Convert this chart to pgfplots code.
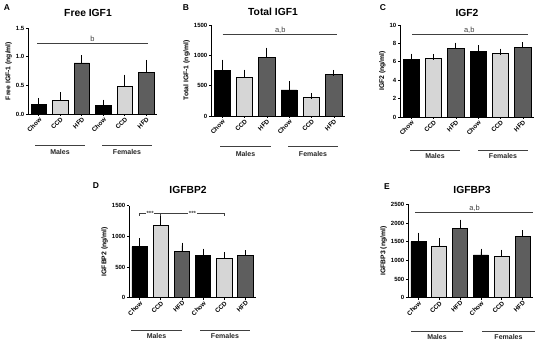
\documentclass[border=0pt]{standalone}
\usepackage{pgfplots}
\pgfplotsset{compat=1.18}
\usepackage{fontspec}
\setmainfont{Liberation Sans}
\definecolor{ccd}{HTML}{D6D6D6}
\definecolor{hfd}{HTML}{5E5E5E}
\definecolor{sig}{HTML}{404040}
\pgfplotsset{
  panel/.style={
    scale only axis, axis lines=left, axis line style={-, line width=0.8pt},
    anchor=south west,
    ymin=0, xmin=-0.5, xmax=5.5, xtick={0,...,5},
    xticklabels={Chow,CCD,HFD,Chow,CCD,HFD},
    x tick label style={rotate=45, anchor=north east, font=\fontsize{6.3}{7}\selectfont\bfseries, inner sep=0.5pt},
    y tick label style={font=\fontsize{6}{7}\selectfont\bfseries, inner sep=1.5pt},
    tick align=outside, major tick length=2pt, tick style={black, line width=0.6pt},
    ylabel style={font=\fontsize{6.8}{7.5}\selectfont\bfseries, yshift=-1pt},
    /pgf/number format/assume math mode=true,
    /pgf/number format/set thousands separator={},
    clip=false,
  },
  bars/.style={ybar, bar width=0.72, bar shift=0pt, draw=black, line width=0.7pt, fill=#1,
    error bars/.cd, y dir=plus, y explicit, error bar style={black, line width=0.7pt},
    error mark options={black, line width=0.7pt, mark size=3pt}},
}
\tikzset{
  ttl/.style={font=\fontsize{10.3}{12}\selectfont\bfseries},
  ltr/.style={font=\fontsize{8.5}{10}\selectfont\bfseries},
  grp/.style={font=\fontsize{7}{8}\selectfont\bfseries, text=black!85},
  gln/.style={black!75, line width=0.8pt},
  sigtxt/.style={font=\fontsize{7.5}{8}\selectfont, text=sig, inner sep=1pt},
  stars/.style={fill=white, font=\fontsize{6}{6}\selectfont\bfseries, text=sig, inner sep=0.6pt},
}
\begin{document}
\begin{tikzpicture}[x=1pt,y=1pt]
\path[use as bounding box] (0,0) rectangle (550,345);

% ---------- Panel A ----------
\begin{axis}[panel, at={(28pt,231pt)}, width=129pt, height=86pt,
  ymax=1.5, ytick={0,0.5,1,1.5},
  yticklabel style={/pgf/number format/.cd, fixed, fixed zerofill, precision=1},
  ylabel={Free IGF-1 (ng/ml)}]
\addplot[bars=black] coordinates {(0,0.17) +- (0,0.06) (3,0.155) +- (0,0.045)};
\addplot[bars=ccd] coordinates {(1,0.24) +- (0,0.09) (4,0.475) +- (0,0.16)};
\addplot[bars=hfd] coordinates {(2,0.89) +- (0,0.08) (5,0.73) +- (0,0.16)};
\draw[sig, line width=0.7pt] (axis cs:-0.08,1.24) -- (axis cs:5.08,1.24);
\node[above, sigtxt] at (axis cs:2.5,1.24) {b};
\end{axis}

% ---------- Panel B ----------
\begin{axis}[panel, at={(211pt,229pt)}, width=134pt, height=91pt,
  ymax=1500, ytick={0,500,1000,1500},
  ylabel={Total IGF-1 (ng/ml)}]
\addplot[bars=black] coordinates {(0,758) +- (0,121) (3,429) +- (0,93)};
\addplot[bars=ccd] coordinates {(1,637) +- (0,77) (4,313) +- (0,17)};
\addplot[bars=hfd] coordinates {(2,967) +- (0,110) (5,692) +- (0,17)};
\draw[sig, line width=0.7pt] (axis cs:0.02,1346) -- (axis cs:5.14,1346);
\node[above, sigtxt] at (axis cs:2.6,1346) {a,b};
\end{axis}

% ---------- Panel C ----------
\begin{axis}[panel, at={(400pt,228pt)}, width=134pt, height=92pt,
  ymax=10, ytick={0,2,4,6,8,10},
  ylabel={IGF2 (ng/ml)}]
\addplot[bars=black] coordinates {(0,6.28) +- (0,0.29) (3,7.11) +- (0,0.36)};
\addplot[bars=ccd] coordinates {(1,6.39) +- (0,0.15) (4,6.93) +- (0,0.18)};
\addplot[bars=hfd] coordinates {(2,7.47) +- (0,0.29) (5,7.58) +- (0,0.22)};
\draw[sig, line width=0.7pt] (axis cs:0.04,9.0) -- (axis cs:5.23,9.0);
\node[above, sigtxt] at (axis cs:2.6,9.0) {a,b};
\end{axis}

% ---------- Panel D ----------
\begin{axis}[panel, at={(129pt,47.3pt)}, width=127pt, height=92pt,
  ymax=1500, ytick={0,500,1000,1500},
  ylabel={IGFBP2 (ng/ml)}]
\addplot[bars=black] coordinates {(0,832) +- (0,92) (3,696) +- (0,54)};
\addplot[bars=ccd] coordinates {(1,1174) +- (0,109) (4,641) +- (0,55)};
\addplot[bars=hfd] coordinates {(2,761) +- (0,87) (5,685) +- (0,38)};
\draw[sig, line width=0.6pt] ([yshift=-2.5pt]axis cs:0,1375) -- (axis cs:0,1375) -- (axis cs:4,1375) -- ([yshift=-2.5pt]axis cs:4,1375);
\draw[sig, line width=0.6pt] (axis cs:1,1375) -- ([yshift=-2.5pt]axis cs:1,1375);
\node[stars] at (axis cs:0.5,1375) {***};
\node[stars] at (axis cs:2.5,1375) {***};
\end{axis}

% ---------- Panel E ----------
\begin{axis}[panel, at={(408pt,47.3pt)}, width=125pt, height=93.4pt,
  ymax=2500, ytick={0,500,1000,1500,2000,2500},
  ylabel={IGFBP3 (ng/ml)}]
\addplot[bars=black] coordinates {(0,1500) +- (0,161) (3,1143) +- (0,89)};
\addplot[bars=ccd] coordinates {(1,1384) +- (0,134) (4,1116) +- (0,89)};
\addplot[bars=hfd] coordinates {(2,1857) +- (0,152) (5,1634) +- (0,89)};
\draw[sig, line width=0.7pt] (axis cs:-0.16,2277) -- (axis cs:5.5,2277);
\node[above, sigtxt] at (axis cs:2.7,2277) {a,b};
\end{axis}

% ---------- Titles and letters ----------
\node[ltr] at (7,337) {A};
\node[ttl] at (88,332) {Free IGF1};
\node[ltr] at (186,337) {B};
\node[ttl] at (273,333) {Total IGF1};
\node[ltr] at (383,337) {C};
\node[ttl] at (467,332) {IGF2};
\node[ltr] at (96,159) {D};
\node[ttl] at (188,155) {IGFBP2};
\node[ltr] at (387,158) {E};
\node[ttl] at (472,155) {IGFBP3};

% ---------- Group lines ----------
% A
\draw[gln] (35,199.3) -- (85,199.3); \node[grp] at (60,193.3) {Males};
\draw[gln] (102,199.3) -- (152,199.3); \node[grp] at (127,193.3) {Females};
% B
\draw[gln] (220,198.3) -- (271,198.3); \node[grp] at (245.5,190.7) {Males};
\draw[gln] (288,198.3) -- (338,198.3); \node[grp] at (313,190.7) {Females};
% C
\draw[gln] (410,194.3) -- (460,194.3); \node[grp] at (435,189) {Males};
\draw[gln] (478,194.3) -- (528,194.3); \node[grp] at (503,189) {Females};
% D
\draw[gln] (131,15) -- (182,15); \node[grp] at (156.5,9) {Males};
\draw[gln] (200,15) -- (250,15); \node[grp] at (225,9) {Females};
% E
\draw[gln] (411,13.3) -- (463,13.3); \node[grp] at (437,7.7) {Males};
\draw[gln] (482,13.3) -- (535,13.3); \node[grp] at (508.5,7.7) {Females};
\end{tikzpicture}
\end{document}
